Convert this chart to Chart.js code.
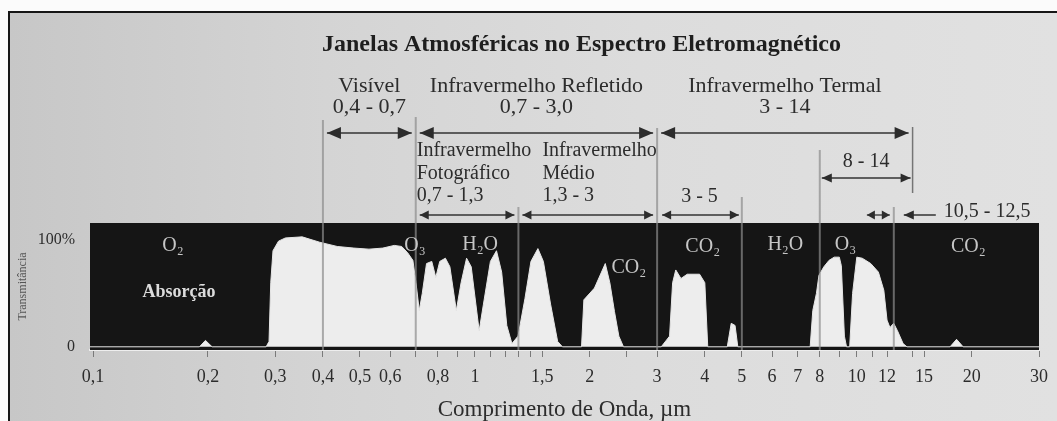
<!DOCTYPE html>
<html lang="pt">
<head>
<meta charset="utf-8">
<title>Janelas Atmosféricas no Espectro Eletromagnético</title>
<script src="https://cdn.jsdelivr.net/npm/chart.js@4.4.1/dist/chart.umd.min.js"></script>
<style>
  html, body { margin: 0; padding: 0; background: #fbfbfb; overflow: hidden; }
  #frame {
    position: absolute; left: 8px; top: 11px; width: 1049px; height: 410px;
    box-sizing: border-box; border-left: 2px solid #161616; border-top: 2px solid #161616;
    background: linear-gradient(90deg, #c7c7c7 0%, #d4d4d4 30%, #dcdcdc 60%, #e1e1e1 100%);
  }
  #wrap { position: absolute; left: 0; top: 0; width: 1057px; height: 421px; filter: blur(0.6px); }
</style>
</head>
<body>
<div id="frame"></div>
<div id="wrap"><canvas id="spectrum-chart"></canvas></div>
<script>
'use strict';

// ******** DATA **************
let chartTitle = 'Janelas Atmosféricas no Espectro Eletromagnético';
let xAxisTitle = 'Comprimento de Onda, µm';
let yAxisTitle = 'Transmitância';

// wavelength (µm) and transmission (%)
let wavelengths = [
  0.098, 0.19, 0.197, 0.205, 0.284, 0.289, 0.292, 0.296, 0.306, 0.319,
  0.353, 0.392, 0.436, 0.482, 0.528, 0.574, 0.615, 0.643, 0.667, 0.688,
  0.701, 0.715, 0.728, 0.747, 0.771, 0.79, 0.809, 0.837, 0.86, 0.894,
  0.92, 0.951, 0.978, 1.026, 1.053, 1.098, 1.139, 1.175, 1.212, 1.25,
  1.297, 1.352, 1.402, 1.462, 1.511, 1.578, 1.647, 1.695, 1.902, 1.929,
  2.056, 2.195, 2.256, 2.32, 2.382, 2.449, 3.076, 3.234, 3.294, 3.357,
  3.464, 3.598, 3.876, 4.0, 4.071, 4.58, 4.69, 4.8, 4.88, 7.55,
  7.67, 7.84, 7.96, 8.2, 8.46, 8.73, 9.0, 9.11, 9.28, 9.4,
  9.58, 9.75, 10.0, 10.33, 10.88, 11.39, 11.77, 12.0, 12.21, 12.49,
  12.78, 13.22, 13.53, 17.55, 18.25, 18.98, 30
];
let transmission = [
  0, 0, 6, 0, 0, 5, 60, 90, 99, 102,
  103, 98, 94, 92.5, 91.5, 92.5, 95, 94, 88, 81,
  60, 34, 50, 78, 80, 65, 80, 83, 75, 34,
  60, 83, 75, 15, 40, 80, 90, 70, 20, 3,
  10, 45, 80, 92, 80, 40, 5, 0, 0, 44,
  55, 78, 60, 33, 10, 0, 0, 10, 60, 72,
  64, 68, 68, 60, 0, 0, 22, 20, 0, 0,
  34, 50, 67, 75, 81, 84, 84, 76, 10, 0,
  0, 50, 84, 83, 78, 70, 53, 25, 18, 22,
  15, 3, 0, 0, 7, 0, 0
];

let xTickValues = [0.1, 0.2, 0.3, 0.4, 0.5, 0.6, 0.8, 1, 1.5, 2, 3, 4, 5, 6, 7, 8, 10, 12, 15, 20, 30];
let xTickLabels = ['0,1', '0,2', '0,3', '0,4', '0,5', '0,6', '0,8', '1', '1,5', '2', '3', '4', '5', '6', '7', '8', '10', '12', '15', '20', '30'];
let xMinorTicks = [0.7, 0.9, 1.1, 1.2, 1.3, 1.4, 2.5, 9, 11, 14];
let yTickValues = [0, 100];
let yTickLabels = ['0', '100%'];

// spectral regions (µm)
let bandNames = ['Visível', 'Infravermelho Refletido', 'Infravermelho Termal'];
let bandRanges = ['0,4 - 0,7', '0,7 - 3,0', '3 - 14'];
let bandStarts = [0.4, 0.7, 3];
let bandEnds = [0.7, 3, 14];

let subBandTexts = [
  ['Infravermelho', 'Fotográfico', '0,7 - 1,3'],
  ['Infravermelho', 'Médio', '1,3 - 3'],
  ['3 - 5'],
  ['8 - 14'],
  ['10,5 - 12,5']
];
let subBandStarts = [0.7, 1.3, 3, 8, 10.5];
let subBandEnds = [1.3, 3, 5, 14, 12.5];

let boundaryLines = [0.4, 0.7, 1.3, 3, 5, 8, 12.5];

// absorbing gases written on the black area
let gasLabels = ['O₂', 'O₃', 'H₂O', 'CO₂', 'CO₂', 'H₂O', 'O₃', 'CO₂'];
let gasWavelengths = [0.162, 0.697, 1.032, 2.53, 3.95, 6.5, 9.34, 19.6];
let gasLevels = [95, 95, 96, 74, 94, 96, 96, 94];

// ********* HELPERS ****************
const serif = "'Liberation Serif', 'DejaVu Serif', serif";
const inkColor = '#2c2c2c';

function drawHead(ctx, xTip, yy, dir, len, half){
  ctx.beginPath();
  ctx.moveTo(xTip, yy);
  ctx.lineTo(xTip - dir * len, yy - half);
  ctx.lineTo(xTip - dir * len, yy + half);
  ctx.closePath();
  ctx.fill();
}

function drawRangeArrow(ctx, x1, x2, yy, len, half){
  ctx.beginPath();
  ctx.moveTo(x1, yy);
  ctx.lineTo(x2, yy);
  ctx.stroke();
  drawHead(ctx, x1, yy, -1, len, half);
  drawHead(ctx, x2, yy, 1, len, half);
}

function vLine(ctx, xx, y1, y2){
  ctx.beginPath();
  ctx.moveTo(xx, y1);
  ctx.lineTo(xx, y2);
  ctx.stroke();
}

// black absorption background plus all the labels above the plot
const annotationsPlugin = {
  id: 'annotations',
  beforeDatasetsDraw(chart){
    const {ctx, chartArea: a} = chart;
    ctx.save();
    ctx.fillStyle = '#151515';
    ctx.fillRect(a.left, a.top, a.right - a.left, a.bottom - a.top);
    ctx.restore();
  },
  afterDatasetsDraw(chart){
    const {ctx, chartArea: a, scales} = chart;
    const px = (v) => scales.x.getPixelForValue(v);
    const top = a.top;

    ctx.save();

    // boundary lines
    let lineTops = [-103, -106, -16, -95, -26, -73, -16];
    ctx.strokeStyle = 'rgba(140,140,140,0.7)';
    ctx.lineWidth = 2;
    for (let i = 0; i < boundaryLines.length; i++){
      vLine(ctx, px(boundaryLines[i]), top + lineTops[i], a.bottom);
    }
    ctx.lineWidth = 1.5;
    ctx.strokeStyle = 'rgba(90,90,90,0.8)';
    vLine(ctx, px(14), top - 96, top - 30);

    // title
    ctx.fillStyle = '#1e1e1e';
    ctx.textAlign = 'center';
    ctx.textBaseline = 'middle';
    ctx.font = `bold 24px ${serif}`;
    ctx.fillText(chartTitle, (a.left + a.right) / 2 + 17, 45);

    // main bands
    ctx.fillStyle = inkColor;
    ctx.strokeStyle = '#333';
    ctx.lineWidth = 1.3;
    ctx.font = `22px ${serif}`;
    for (let i = 0; i < bandNames.length; i++){
      let x1 = px(bandStarts[i]);
      let x2 = px(bandEnds[i]);
      let mid = (x1 + x2) / 2;
      ctx.fillText(bandNames[i], mid, top - 137);
      ctx.fillText(bandRanges[i], mid, top - 116);
      drawRangeArrow(ctx, x1 + 4, x2 - 4, top - 90, 14, 6);
    }

    // sub bands
    ctx.font = `20px ${serif}`;
    ctx.textAlign = 'left';
    let rowY = [top - 72, top - 49, top - 27];
    for (let i = 0; i < 2; i++){
      let x1 = px(subBandStarts[i]);
      let x2 = px(subBandEnds[i]);
      let textX = i === 0 ? x1 + 1 : x1 + 24;
      for (let r = 0; r < subBandTexts[i].length; r++){
        ctx.fillText(subBandTexts[i][r], textX, rowY[r]);
      }
      drawRangeArrow(ctx, x1 + 4, x2 - 4, top - 8, 9, 4.5);
    }

    // 3 - 5
    let x35a = px(subBandStarts[2]);
    let x35b = px(subBandEnds[2]);
    ctx.textAlign = 'center';
    ctx.fillText(subBandTexts[2][0], (x35a + x35b) / 2, top - 26);
    drawRangeArrow(ctx, x35a + 5, x35b - 3, top - 8, 9, 4.5);

    // 8 - 14
    let x814a = px(subBandStarts[3]);
    let x814b = px(subBandEnds[3]);
    ctx.fillText(subBandTexts[3][0], (x814a + x814b) / 2, top - 61);
    drawRangeArrow(ctx, x814a + 2, x814b - 2, top - 45, 10, 4.5);

    // 10,5 - 12,5
    let xa = px(subBandStarts[4]);
    let xb = px(subBandEnds[4]);
    drawRangeArrow(ctx, xa + 2, xb - 4, top - 8, 8, 4.5);
    ctx.beginPath();
    ctx.moveTo(xb + 10, top - 8);
    ctx.lineTo(xb + 42, top - 8);
    ctx.stroke();
    drawHead(ctx, xb + 10, top - 8, -1, 10, 4.5);
    ctx.textAlign = 'left';
    ctx.fillText(subBandTexts[4][0], xb + 50, top - 11);

    // gas names on the black area
    ctx.fillStyle = '#c6c6c6';
    ctx.textAlign = 'center';
    ctx.font = `20px ${serif}`;
    for (let i = 0; i < gasLabels.length; i++){
      ctx.fillText(gasLabels[i], px(gasWavelengths[i]), scales.y.getPixelForValue(gasLevels[i]));
    }
    ctx.fillStyle = '#dcdcdc';
    ctx.font = `bold 18px ${serif}`;
    ctx.fillText('Absorção', px(0.168), scales.y.getPixelForValue(51));

    ctx.restore();
  }
};

// ********* CHART ******************
let chartPoints = [];
for (let i = 0; i < wavelengths.length; i++){
  chartPoints.push({x: wavelengths[i], y: transmission[i]});
}

let allXTicks = xTickValues.concat(xMinorTicks).sort((p, q) => p - q);

let chartSettings = {
  type: 'line',
  data: {
    datasets: [{
      label: yAxisTitle,
      data: chartPoints,
      fill: 'origin',
      backgroundColor: '#ededed',
      borderColor: '#e6e6e6',
      borderWidth: 1,
      pointRadius: 0,
      tension: 0
    }]
  },
  options: {
    responsive: true,
    maintainAspectRatio: false,
    animation: false,
    layout: {
      padding: {left: 0, right: 15, top: 223, bottom: 0}
    },
    plugins: {
      legend: {display: false},
      tooltip: {enabled: false}
    },
    scales: {
      x: {
        type: 'logarithmic',
        min: 0.0982,
        max: 30,
        afterBuildTicks: (scale) => {
          scale.ticks = allXTicks.map(v => ({value: v}));
        },
        afterFit: (scale) => {
          scale.height = 71;
        },
        grid: {drawOnChartArea: false, drawTicks: true, tickLength: 7, tickColor: '#7a7a7a'},
        border: {display: true, color: '#eeeeee', width: 2},
        ticks: {
          autoSkip: false,
          maxRotation: 0,
          minRotation: 0,
          padding: 9,
          color: inkColor,
          font: {family: serif, size: 18},
          callback: (value) => {
            let idx = xTickValues.indexOf(value);
            return idx >= 0 ? xTickLabels[idx] : '';
          }
        },
        title: {
          display: true,
          text: xAxisTitle,
          color: inkColor,
          font: {family: serif, size: 23},
          padding: {top: 0, bottom: -3}
        }
      },
      y: {
        min: -3,
        max: 116,
        afterBuildTicks: (scale) => {
          scale.ticks = yTickValues.map(v => ({value: v}));
        },
        afterFit: (scale) => {
          scale.width = 90;
        },
        grid: {display: false},
        border: {display: false},
        ticks: {
          padding: 7,
          color: inkColor,
          font: {family: serif, size: 16},
          callback: (value) => {
            let idx = yTickValues.indexOf(value);
            return idx >= 0 ? yTickLabels[idx] : '';
          }
        },
        title: {
          display: true,
          text: yAxisTitle,
          color: '#555',
          font: {family: serif, size: 12},
          padding: {top: 16, bottom: 0}
        }
      }
    }
  },
  plugins: [annotationsPlugin]
};

new Chart(document.getElementById('spectrum-chart'), chartSettings);
</script>
</body>
</html>
